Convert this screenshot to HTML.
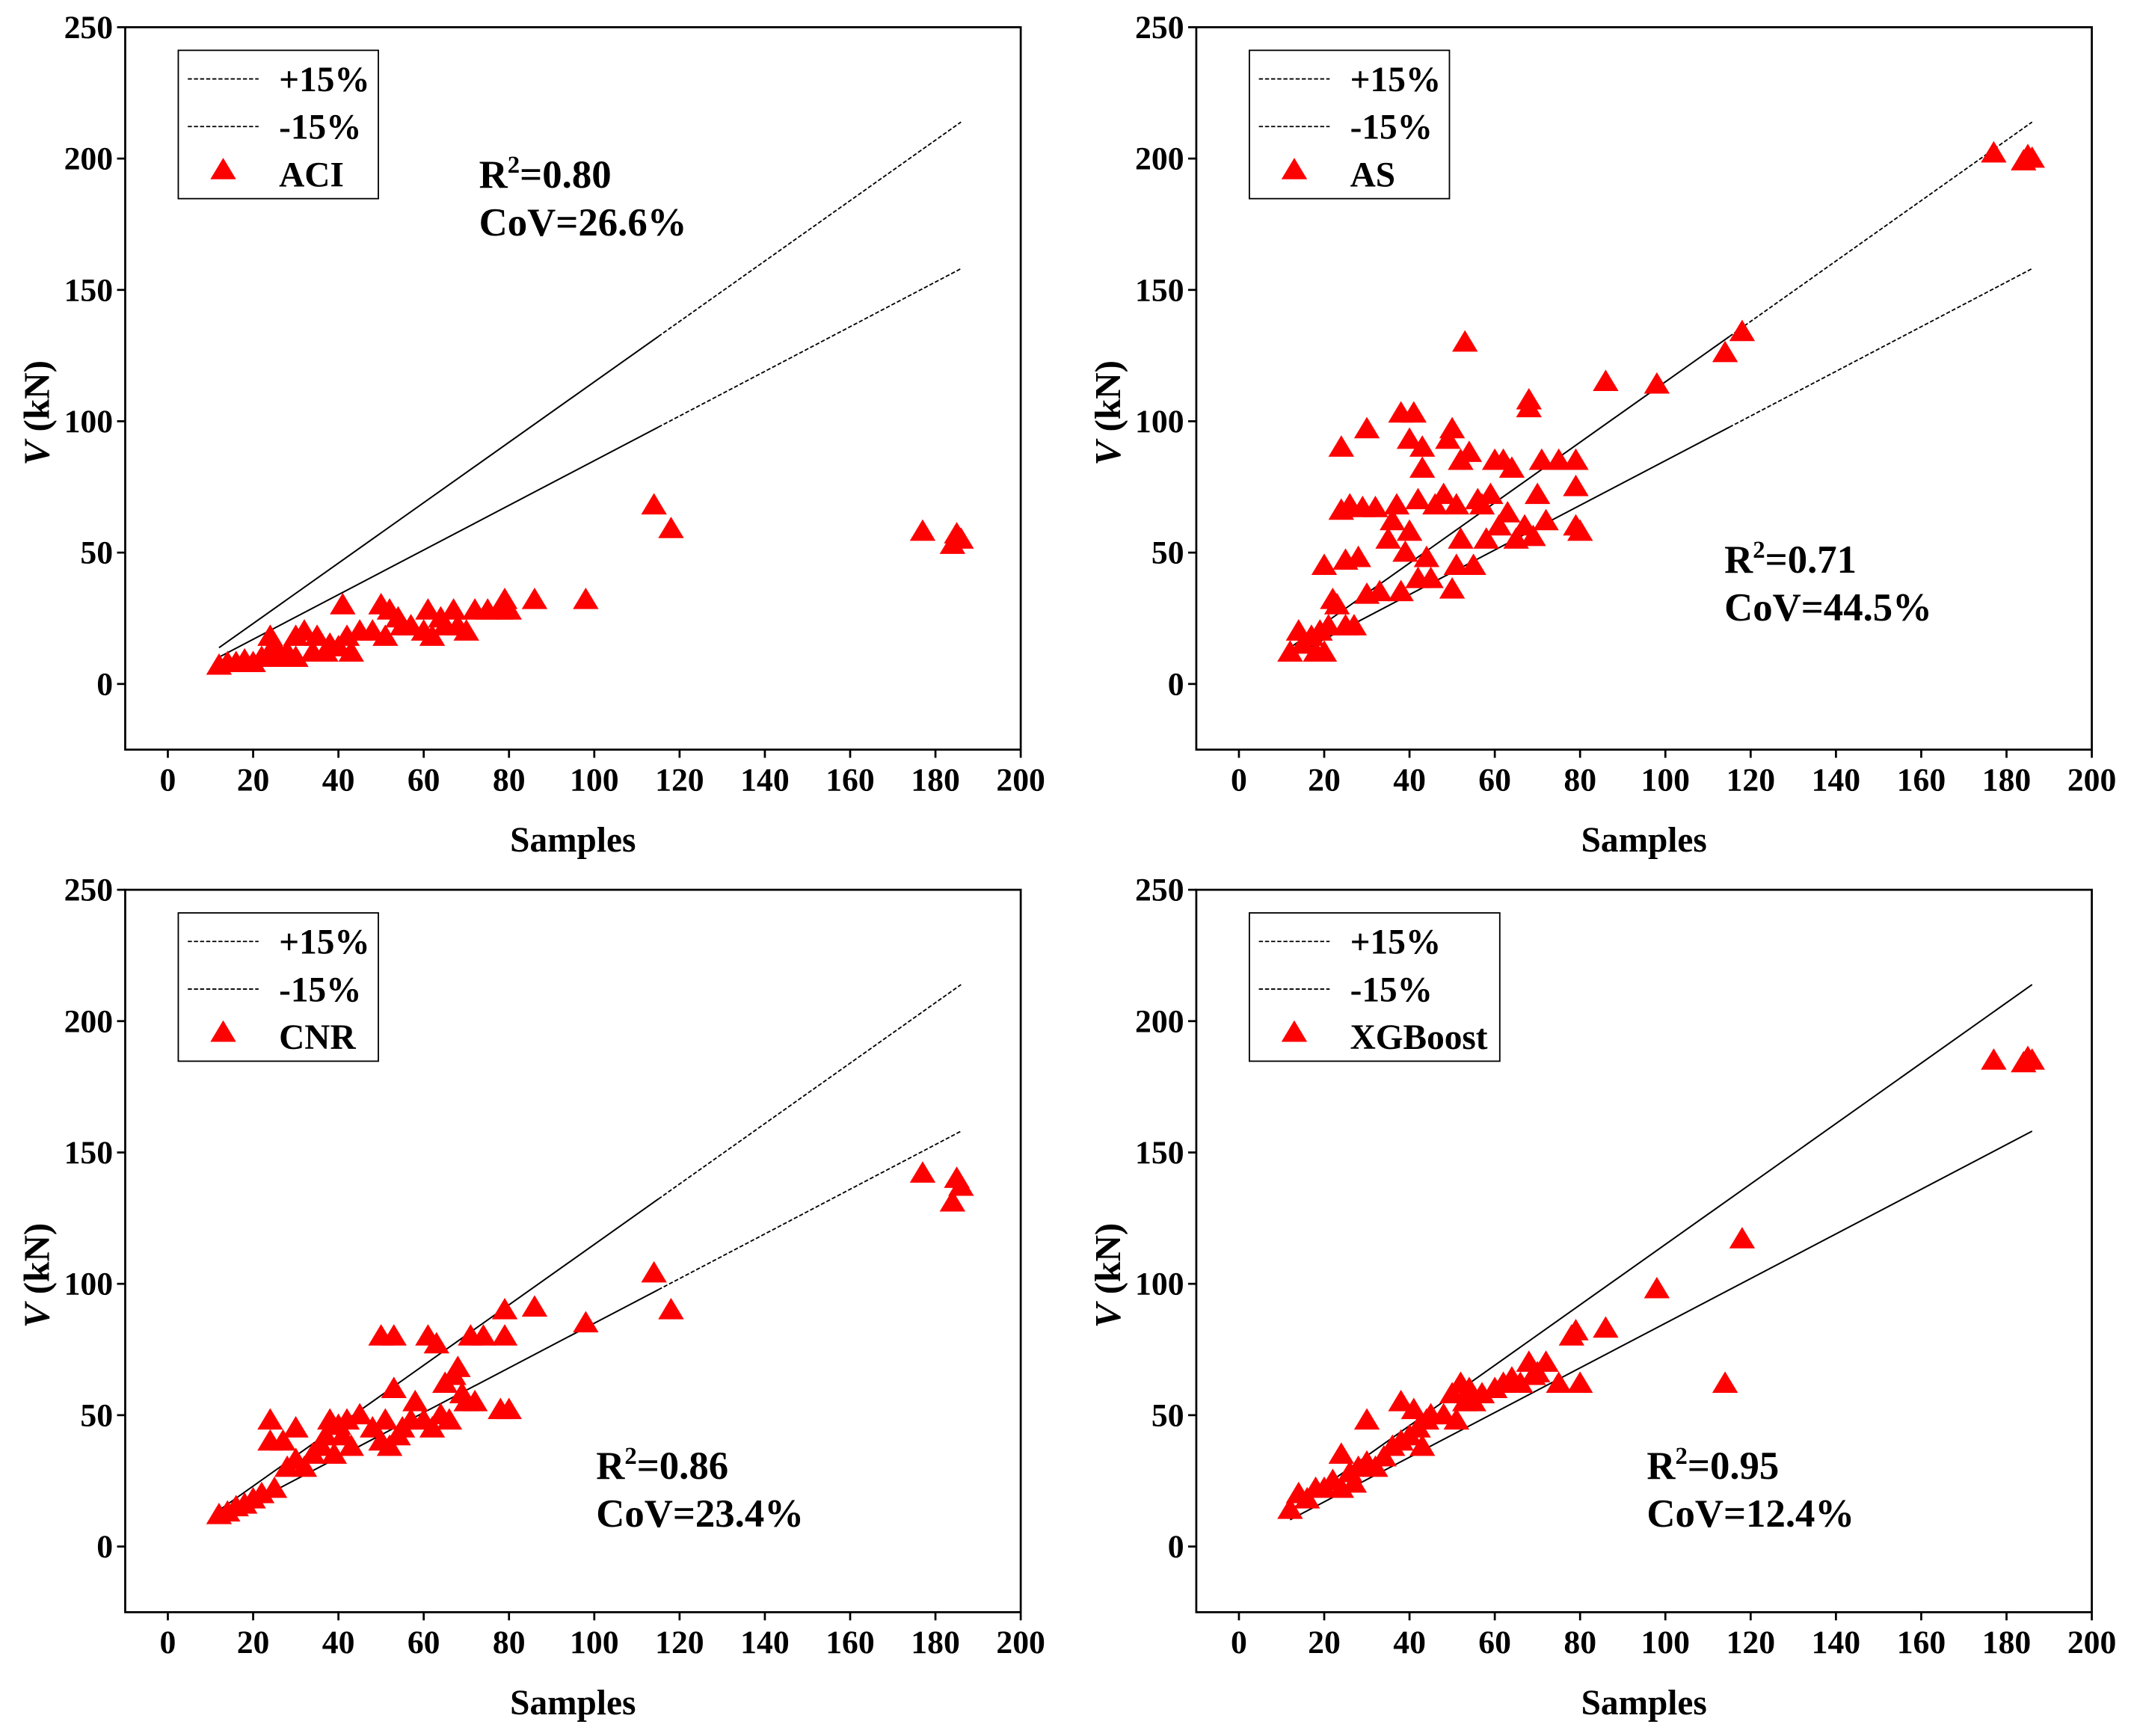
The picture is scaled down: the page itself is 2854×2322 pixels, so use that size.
<!DOCTYPE html>
<html><head><meta charset="utf-8"><style>
html,body{margin:0;padding:0;background:#fff}
svg{display:block}
text{font-family:"Liberation Serif",serif;font-weight:bold;fill:#000}
</style></head><body>
<svg id="fig" width="2854" height="2322" viewBox="0 0 1568 1276" preserveAspectRatio="none" xmlns="http://www.w3.org/2000/svg"></svg>
<script>
const xTicks=[0,20,40,60,80,100,120,140,160,180,200];
const yTicks=[0,50,100,150,200,250];
const aciX=[12,14,16,18,20,22,24,24,25,26,28,30,30,32,34,35,37,38,40,41,42,43,45,48,50,51,52,54,55,57,60,61,62,64,65,67,68,70,72,75,78,79,80,86,98,114,118,177,184,185,186];
const aciY=[7,8,8,9,8,10,18,12,15,10,12,18,10,20,12,18,12,15,14,30,18,12,20,20,30,18,28,25,22,22,20,28,18,25,22,28,22,20,28,28,28,32,28,32,32,68,59,58,53,57,55];
const asX=[12,14,15,17,18,19,20,20,21,22,23,24,24,25,25,26,27,28,29,30,30,32,33,35,36,37,38,38,39,40,40,41,42,42,43,43,44,45,46,48,49,50,50,51,51,52,52,53,54,55,56,57,58,59,60,61,62,63,64,65,67,68,68,69,70,71,72,75,79,79,79,80,86,98,114,118,177,184,185,186];
const asY=[12,20,15,18,12,20,45,12,22,32,30,66,90,47,22,68,22,48,67,97,34,67,35,55,62,68,103,35,50,93,58,103,40,70,82,90,48,40,68,72,93,97,36,45,68,85,55,130,88,45,70,68,55,72,85,60,85,65,82,55,60,108,105,56,72,85,62,85,85,75,60,58,115,114,126,134,202,199,201,200];
const cnrX=[12,14,16,18,20,22,24,24,25,27,28,30,30,32,34,36,37,38,39,40,41,42,43,45,48,50,50,51,52,53,53,54,55,57,58,60,61,62,63,64,65,66,67,68,69,70,71,72,74,78,79,79,80,86,98,114,118,177,184,185,186];
const cnrY=[12,13,15,16,18,20,48,40,22,40,30,45,33,30,35,38,42,48,35,46,42,48,38,50,45,80,40,48,38,80,60,42,45,48,55,48,80,45,77,50,62,48,65,68,58,55,80,55,80,52,90,80,52,91,85,104,90,142,131,140,137];
const xgbX=[12,14,16,18,20,22,24,24,26,27,28,30,30,32,34,36,38,38,40,41,42,43,44,45,48,50,51,52,53,54,55,57,60,62,64,66,68,69,70,72,75,78,79,80,86,98,114,118,177,184,185,186];
const xgbY=[14,20,18,22,22,25,35,22,28,24,30,48,32,30,34,38,55,40,42,52,45,38,48,50,50,58,48,62,55,60,55,58,60,62,64,62,70,65,66,70,62,80,82,62,83,98,62,117,185,184,186,185];

const NS="http://www.w3.org/2000/svg";
const svg=document.getElementById('fig');
function mk(tag,attrs,parent){const e=document.createElementNS(NS,tag);for(const k in attrs)e.setAttribute(k,attrs[k]);(parent||svg).appendChild(e);return e;}
const panels=[
 {name:'aci',label:'ACI',x:92,y:20,xs:aciX,ys:aciY,r2:'0.80',cov:'26.6%',tx:352,ty:128,solidTo:115},
 {name:'as',label:'AS',x:879,y:20,xs:asX,ys:asY,r2:'0.71',cov:'44.5%',tx:1267,ty:411,solidTo:115},
 {name:'cnr',label:'CNR',x:92,y:654,xs:cnrX,ys:cnrY,r2:'0.86',cov:'23.4%',tx:438,ty:1077,solidTo:115},
 {name:'xgboost',label:'XGBoost',x:879,y:654,xs:xgbX,ys:xgbY,r2:'0.95',cov:'12.4%',tx:1210,ty:1077,solidTo:186}
];
const W=658,H=531;
function tri(g,cx,cy,s){return mk('polygon',{points:`${cx},${cy-s} ${cx-s*1.05},${cy+s*0.75} ${cx+s*1.05},${cy+s*0.75}`,fill:'#ff0000'},g);}
panels.forEach(p=>{
  const g=mk('g',{});
  
  
  const sx=v=>p.x+(v+10)/210*W;
  const sy=v=>p.y+H-(v+25)/275*H;
  [[1.15,'plus15-line'],[0.85,'minus15-line']].forEach(([k,n])=>{
    const l=mk('line',{x1:sx(12),y1:sy(12*k),x2:sx(p.solidTo),y2:sy(p.solidTo*k),stroke:'#000','stroke-width':1.1},g);
    
    
    if(p.solidTo<186){
      const l2=mk('line',{x1:sx(p.solidTo),y1:sy(p.solidTo*k),x2:sx(186),y2:sy(186*k),stroke:'#000','stroke-width':1,'stroke-dasharray':'3,1.5'},g);
      
      
    }
  });
  for(let i=0;i<p.xs.length;i++){
    const t=tri(g,sx(p.xs[i]),sy(p.ys[i]),9);
    
    
  }
  const f=mk('rect',{x:p.x,y:p.y,width:W,height:H,fill:'none',stroke:'#000','stroke-width':1.5},g);
  
  
  xTicks.forEach(v=>{
    mk('line',{x1:sx(v),y1:p.y+H,x2:sx(v),y2:p.y+H+6,stroke:'#000','stroke-width':1.5},g);
    const t=mk('text',{x:sx(v),y:p.y+H+30,'text-anchor':'middle','font-size':24},g);
    t.textContent=v;
    
    
  });
  yTicks.forEach(v=>{
    mk('line',{x1:p.x-6,y1:sy(v),x2:p.x,y2:sy(v),stroke:'#000','stroke-width':1.5},g);
    const t=mk('text',{x:p.x-9,y:sy(v)+8,'text-anchor':'end','font-size':24},g);
    t.textContent=v;
    
    
  });
  const xt=mk('text',{x:p.x+W/2,y:p.y+H+75,'text-anchor':'middle','font-size':26},g);
  xt.textContent='Samples';
  
  
  const yt=mk('text',{x:0,y:0,'text-anchor':'middle','font-size':27,transform:`translate(${p.x-56},${p.y+H/2+18}) rotate(-90)`},g);
  yt.innerHTML='<tspan font-style="italic">V</tspan> (kN)';
  
  
  const lg=mk('g',{},g);
  
  
  const lw=p.label==='XGBoost'?184:147;
  mk('rect',{x:p.x+39,y:p.y+17,width:lw,height:109,fill:'#fff',stroke:'#000','stroke-width':1},lg);
  [['+15%',38],['-15%',73]].forEach(([s,dy])=>{
    mk('line',{x1:p.x+46,y1:p.y+dy,x2:p.x+98,y2:p.y+dy,stroke:'#000','stroke-width':1,'stroke-dasharray':'3,1.5'},lg);
    const t=mk('text',{x:p.x+113,y:p.y+dy+9,'font-size':26},lg);
    t.textContent=s;
    
    
  });
  tri(lg,p.x+72,p.y+105,9);
  const lt=mk('text',{x:p.x+113,y:p.y+117,'font-size':26},lg);
  lt.textContent=p.label;
  
  
  const r=mk('text',{x:p.tx,y:p.ty+10,'font-size':29},g);
  r.innerHTML='R<tspan font-size="18" dy="-11">2</tspan><tspan dy="11">='+p.r2+'</tspan>';
  
  
  const c=mk('text',{x:p.tx,y:p.ty+45,'font-size':29},g);
  c.textContent='CoV='+p.cov;
  
  
});
</script>
</body></html>
